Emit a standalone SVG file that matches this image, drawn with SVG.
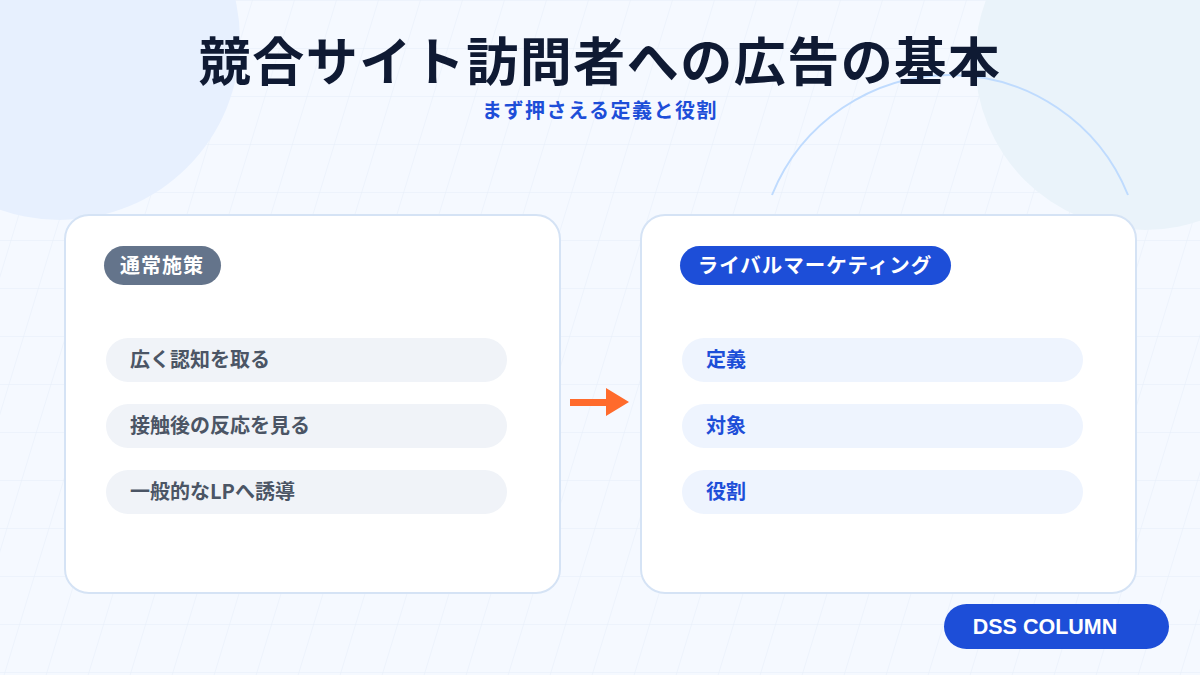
<svg xmlns="http://www.w3.org/2000/svg" width="1200" height="675" viewBox="0 0 1200 675">
<defs>
<pattern id="grid" width="42" height="48" patternUnits="userSpaceOnUse" patternTransform="skewX(-17)">
<path d="M0 0H42M0 0V48" fill="none" stroke="#e6eef9" stroke-width="1"/>
</pattern>
<style>
text{font-family:"Noto Sans CJK JP","Noto Sans",sans-serif;font-weight:700}
.card{fill:#fff;stroke:#d5e3f5;stroke-width:2}
.pl{fill:#f0f3f8}.pr{fill:#eef4fe}
.tl{font-size:20px;fill:#4b5565}.tr{font-size:20px;fill:#1d4ed8}
</style>
</defs>
<rect width="1200" height="675" fill="#f5f9ff"/>
<rect width="1200" height="675" fill="url(#grid)"/>
<circle cx="60" cy="40" r="180" fill="#e7f0fe"/>
<circle cx="1145" cy="60" r="170" fill="#eaf3fa"/>
<path d="M772 195A192 192 0 0 1 1128 195" fill="none" stroke="#bfdbfe" stroke-width="2"/>
<text x="600" y="81" text-anchor="middle" font-size="52" letter-spacing="1.5" fill="#0f1a33">競合サイト訪問者への広告の基本</text>
<text x="600" y="118" text-anchor="middle" font-size="20" letter-spacing="1.5" fill="#1d4ed8">まず押さえる定義と役割</text>
<g id="left">
<rect class="card" x="65" y="215" width="495" height="378" rx="24"/>
<rect x="104" y="246" width="117" height="39" rx="19.5" fill="#64748b"/>
<text x="162" y="273" text-anchor="middle" font-size="20" letter-spacing="1" fill="#fff">通常施策</text>
<rect class="pl" x="106" y="338" width="401" height="44" rx="22"/>
<text class="tl" x="130" y="367">広く認知を取る</text>
<rect class="pl" x="106" y="404" width="401" height="44" rx="22"/>
<text class="tl" x="130" y="433">接触後の反応を見る</text>
<rect class="pl" x="106" y="470" width="401" height="44" rx="22"/>
<text class="tl" x="130" y="499">一般的なLPへ誘導</text>
</g>
<g id="right">
<rect class="card" x="641" y="215" width="495" height="378" rx="24"/>
<rect x="680" y="246" width="271" height="39" rx="19.5" fill="#1d4ed8"/>
<text x="815" y="273" text-anchor="middle" font-size="20.5" letter-spacing="1" fill="#fff">ライバルマーケティング</text>
<rect class="pr" x="682" y="338" width="401" height="44" rx="22"/>
<text class="tr" x="706" y="367">定義</text>
<rect class="pr" x="682" y="404" width="401" height="44" rx="22"/>
<text class="tr" x="706" y="433">対象</text>
<rect class="pr" x="682" y="470" width="401" height="44" rx="22"/>
<text class="tr" x="706" y="499">役割</text>
</g>
<g id="connectors">
<path d="M570 399H606V388L629 402L606 416V406H570Z" fill="#ff6b2c"/>
</g>
<g id="badge">
<rect x="944" y="604" width="225" height="45" rx="22.5" fill="#1d4ed8"/>
<text x="1045" y="634" text-anchor="middle" font-size="21.5" fill="#fff" style="font-family:'Liberation Sans',sans-serif">DSS COLUMN</text>
</g>
</svg>
